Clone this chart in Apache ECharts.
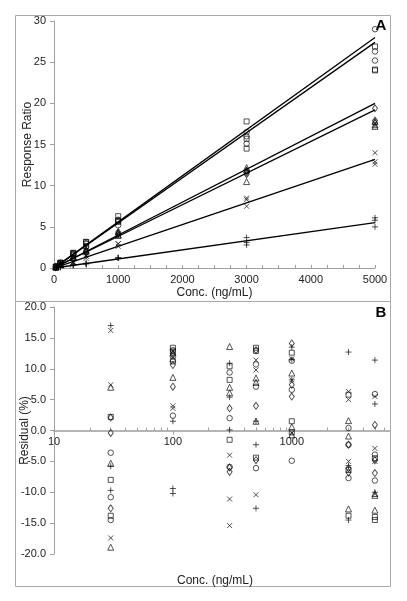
<!DOCTYPE html>
<html><head><meta charset="utf-8">
<script src="https://cdn.jsdelivr.net/npm/echarts@6/dist/echarts.min.js"></script>
<style>html,body{margin:0;padding:0;background:#fff}#c{width:407px;height:601px}</style>
</head><body><div id="c"></div>
<script>
// Concentration levels (ng/mL)
const conc = [30, 100, 300, 500, 1000, 3000, 5000];

// Panel A: response ratios, 3 replicates per level
const respSquare   = [[0.17,0.155,0.145],[0.635,0.632,0.623],[1.85,1.82,1.65],[3.18,3.16,2.68],[6.3,5.7,5.6],[17.8,15.7,14.5],[26.9,24.1,24.0]];
const respCircle   = [[0.158,0.146,0.14],[0.62,0.61,0.56],[1.79,1.67,1.54],[3.03,2.93,2.57],[5.86,5.8,5.2],[16.5,16.0,15.1],[29.0,26.3,25.2]];
const respDiamond  = [[0.117,0.115,0.10],[0.43,0.42,0.41],[1.19,1.08,1.07],[2.17,2.0,1.83],[4.38,4.15,4.12],[11.8,11.6,11.4],[19.4,17.9,17.6]];
const respTriangle = [[0.128,0.114,0.097],[0.45,0.45,0.43],[1.36,1.28,1.27],[2.17,2.16,2.03],[4.37,4.02,3.97],[12.2,11.9,10.5],[17.8,17.4,17.2]];
const respCross    = [[0.092,0.085,0.065],[0.30,0.27,0.27],[0.76,0.70,0.67],[1.47,1.45,1.18],[2.95,2.94,2.63],[8.5,8.3,7.5],[14.0,12.9,12.6]];
const respPlus     = [[0.039,0.031,0.030],[0.11,0.10,0.10],[0.37,0.35,0.33],[0.56,0.54,0.48],[1.25,1.23,1.19],[3.7,3.1,2.8],[6.1,5.8,5.0]];

// Panel A: fitted lines, value at lowest and highest level
const fitConc  = [30, 5000];
const fitSquare   = [0.17, 28.0];
const fitCircle   = [0.16, 27.4];
const fitTriangle = [0.12, 20.0];
const fitDiamond  = [0.12, 19.2];
const fitCross    = [0.08, 13.2];
const fitPlus     = [0.03, 5.5];

// Panel B: residuals (%), 3 per level
const resSquare   = [[2.2,-8.0,-13.8],[13.4,12.8,11.2],[10.4,8.2,-1.5],[13.4,12.9,-4.4],[12.6,1.5,-0.3],[5.8,-6.4,-13.8],[-4.5,-14.0,-14.5]];
const resCircle   = [[-3.6,-10.8,-14.5],[13.0,12.0,2.4],[9.4,2.0,-5.9],[10.7,7.1,-6.1],[11.3,6.6,-4.9],[0.4,-2.3,-7.7],[5.9,-3.9,-8.1]];
const resDiamond  = [[2.1,-0.4,-12.6],[12.3,10.6,7.1],[3.6,-6.0,-6.7],[13.0,4.0,-4.8],[14.1,7.4,5.5],[-2.3,-6.1,-6.8],[0.9,-4.8,-6.9]];
const resTriangle = [[7.0,-5.3,-18.9],[12.6,11.6,8.6],[13.6,7.0,6.1],[8.5,7.8,1.5],[9.3,0.6,-0.7],[1.6,-0.9,-12.7],[-10.2,-10.5,-12.9]];
const resCross    = [[16.2,7.4,-17.4],[12.9,4.0,3.6],[-4.0,-11.1,-15.4],[11.4,9.8,-10.4],[11.6,8.2,-0.4],[6.3,5.0,-5.0],[5.5,-2.9,-5.0]];
const resPlus     = [[17.0,-5.8,-9.7],[1.5,-9.4,-10.2],[10.9,5.4,0.1],[1.5,-2.3,-12.6],[13.5,11.5,8.2],[12.7,-5.7,-14.5],[11.4,4.3,-10.0]];

// Axis ticks
const yTicksA = [0, 30, 5];
const yTicksB = [-20, 20, 5];
const logMajor = [10, 100, 1000];
const logMinor = [20,30,40,50,60,70,80,90,200,300,400,500,600,700,800,900,2000,3000,4000,5000,6000];

const FONT = 'Liberation Sans, Arial, sans-serif';
const GRAY = '#a0a0a0';
const SYM = {
  square: {s:'rect', size:5},
  circle: {s:'circle', size:5.5},
  diamond: {s:'diamond', size:[5,7]},
  triangle: {s:'triangle', size:6},
  cross: {s:'path://M0,0L10,10M10,0L0,10', size:5},
  plus: {s:'path://M5,0L5,10M0,5L10,5', size:6}
};

function pts(arr){ const out=[]; arr.forEach((reps,i)=>reps.forEach(v=>out.push([conc[i], v]))); return out; }
function scatter(name, arr, grid){
  const m = SYM[name];
  return {type:'scatter', xAxisIndex:grid, yAxisIndex:grid, data:pts(arr), symbol:m.s, symbolSize:m.size,
    itemStyle:{color:'rgba(0,0,0,0)', borderColor:'#111', borderWidth:0.9}, silent:true, z:3};
}
function fit(vals){
  return {type:'line', xAxisIndex:0, yAxisIndex:0, data:fitConc.map((c,i)=>[c, vals[i]]), showSymbol:false, symbol:'none',
    lineStyle:{color:'#000', width:1.3}, silent:true, z:4};
}

const lbl = {color:'#222', fontSize:11, fontFamily:FONT};
const nameStyle = {color:'#222', fontSize:12, fontFamily:FONT};
// B panel x axis sits at the zero of the residual axis (middle of the symmetric range)
const zeroOffset = -247 / 2;
const option = {
  animation:false,
  backgroundColor:'#fff',
  grid:[
    {left:54, top:21, width:321, height:247, outerBoundsMode:'none'},
    {left:54, top:307, width:336, height:247, outerBoundsMode:'none'}
  ],
  xAxis:[
    {gridIndex:0, type:'value', min:0, max:5000, interval:1000,
      axisLine:{show:true, onZero:false, lineStyle:{color:GRAY}}, axisTick:{show:true, inside:true, length:3, lineStyle:{color:GRAY}},
      minorTick:{show:true, splitNumber:4, length:3, lineStyle:{color:GRAY}}, splitLine:{show:false},
      axisLabel:Object.assign({margin:6, formatter:v=>String(v)}, lbl),
      name:'Conc. (ng/mL)', nameLocation:'middle', nameGap:19, nameMoveOverlap:false, nameTextStyle:nameStyle},
    {gridIndex:1, type:'log', logBase:10, min:10, max:6700, position:'bottom', offset:zeroOffset,
      axisLine:{show:true, onZero:false, lineStyle:{color:'#b4b4b4', width:2}},
      axisTick:{show:true, customValues:logMajor, length:4, lineStyle:{color:GRAY}},
      axisLabel:Object.assign({margin:6, customValues:logMajor, formatter:v=>String(v)}, lbl), splitLine:{show:false}},
    {gridIndex:1, type:'log', logBase:10, min:10, max:6700, position:'bottom', offset:zeroOffset,
      axisLine:{show:false, onZero:false}, axisTick:{show:true, customValues:logMinor, inside:true, length:3, lineStyle:{color:GRAY}},
      axisLabel:{show:false}, splitLine:{show:false}}
  ],
  yAxis:[
    {gridIndex:0, type:'value', min:yTicksA[0], max:yTicksA[1], interval:yTicksA[2],
      axisLine:{show:true, onZero:false, lineStyle:{color:GRAY}}, axisTick:{show:true, length:4, lineStyle:{color:GRAY}}, splitLine:{show:false},
      axisLabel:Object.assign({margin:8}, lbl),
      name:'Response Ratio', nameLocation:'middle', nameGap:20, nameMoveOverlap:false, nameTextStyle:nameStyle},
    {gridIndex:1, type:'value', min:yTicksB[0], max:yTicksB[1], interval:yTicksB[2],
      axisLine:{show:true, onZero:false, lineStyle:{color:GRAY}}, axisTick:{show:true, length:4, lineStyle:{color:GRAY}}, splitLine:{show:false},
      axisLabel:Object.assign({margin:8, formatter:v=>v.toFixed(1)}, lbl),
      name:'Residual (%)', nameLocation:'middle', nameGap:23, nameMoveOverlap:false, nameTextStyle:nameStyle}
  ],
  graphic:[
    {type:'rect', shape:{x:15.5, y:15.5, width:375, height:286}, style:{fill:'none', stroke:'#aaa', lineWidth:1}, silent:true},
    {type:'rect', shape:{x:15.5, y:301.5, width:375, height:285}, style:{fill:'none', stroke:'#aaa', lineWidth:1}, silent:true},
    {type:'text', x:381, y:26, style:{text:'A', font:'bold 15px '+FONT, fill:'#000', align:'center', verticalAlign:'middle'}, silent:true},
    {type:'text', x:381, y:313, style:{text:'B', font:'bold 15px '+FONT, fill:'#000', align:'center', verticalAlign:'middle'}, silent:true},
    {type:'text', x:215, y:581, style:{text:'Conc. (ng/mL)', font:'12px '+FONT, fill:'#222', align:'center', verticalAlign:'middle'}, silent:true}
  ],
  series:[
    fit(fitSquare), fit(fitCircle), fit(fitTriangle), fit(fitDiamond), fit(fitCross), fit(fitPlus),
    scatter('square', respSquare, 0), scatter('circle', respCircle, 0), scatter('diamond', respDiamond, 0),
    scatter('triangle', respTriangle, 0), scatter('cross', respCross, 0), scatter('plus', respPlus, 0),
    scatter('square', resSquare, 1), scatter('circle', resCircle, 1), scatter('diamond', resDiamond, 1),
    scatter('triangle', resTriangle, 1), scatter('cross', resCross, 1), scatter('plus', resPlus, 1)
  ]
};
const chart = echarts.init(document.getElementById('c'), null, {renderer:'canvas'});
chart.setOption(option);
</script>
</body></html>
